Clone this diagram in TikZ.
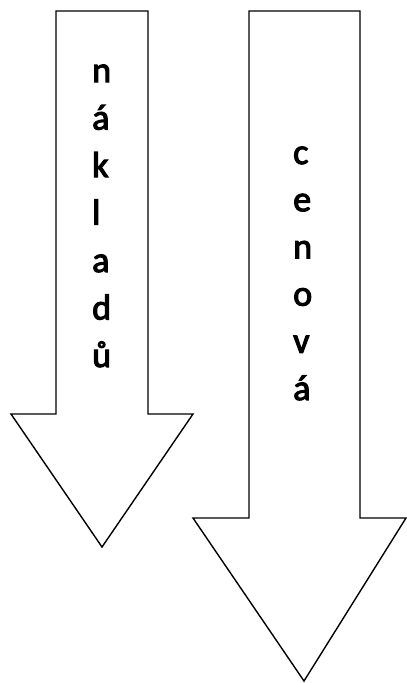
\documentclass[tikz,border=0pt]{standalone}
\usepackage{fontspec}
\newfontfamily\lettfont{Carlito}[FakeBold=3]
\begin{document}
\begin{tikzpicture}[x=1pt,y=-1pt,
  arrowshape/.style={draw=black,line width=1.4pt,fill=white,line join=miter},
  letter/.style={anchor=base west,inner sep=0pt,font=\lettfont\fontsize{36}{36}\selectfont}]
\useasboundingbox (0,0) rectangle (407,683);
% left arrow
\draw[arrowshape] (56,11) -- (148,11) -- (148,414) -- (193,414) -- (102,547) -- (11,414) -- (56,414) -- cycle;
% right arrow
\draw[arrowshape] (249,11) -- (360,11) -- (360,518) -- (406,518) -- (304,681) -- (193,518) -- (249,518) -- cycle;
% left letters
\foreach \t [count=\i] in {n,á,k,l,a,d,ů}
  \node[letter] (L\i) at (92,{82+(\i-1)*47.5}) {\t};
% right letters
\foreach \t [count=\i] in {c,e,n,o,v,á}
  \node[letter] (R\i) at (293,{164+(\i-1)*47.2}) {\t};
\end{tikzpicture}
\end{document}
